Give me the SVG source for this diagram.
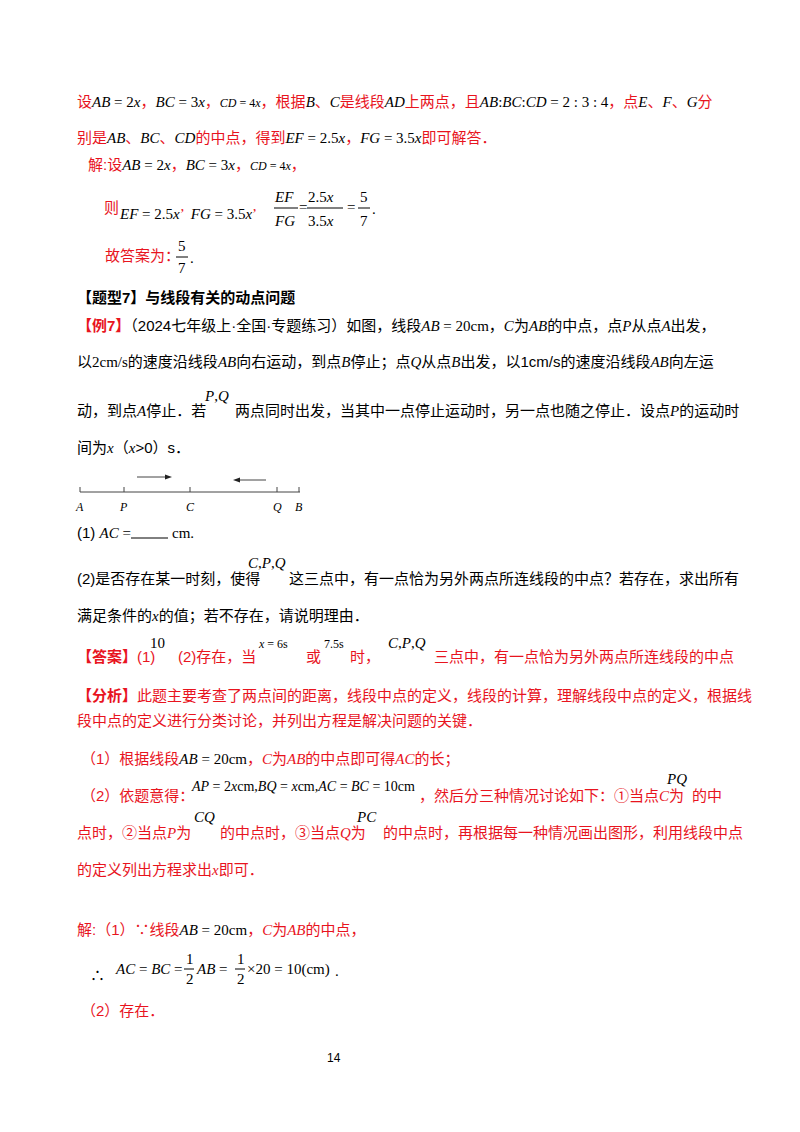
<svg xmlns="http://www.w3.org/2000/svg" width="800" height="1132" viewBox="0 0 800 1132">
<style>
text{font-family:"Liberation Sans","Noto Sans CJK SC",sans-serif;font-size:15px;fill:#000}
.r{fill:#e8141e}
.m{font-family:"Liberation Serif","Noto Sans CJK SC",serif;font-style:italic}
.n{font-family:"Liberation Serif",serif;font-style:normal}
.b{font-weight:bold}
.s{font-size:12px}
</style>
<rect width="800" height="1132" fill="#fff"/>
<text x="77" y="107" class="r">设<tspan class="m" fill="#000">AB</tspan><tspan class="n" fill="#000"> = 2</tspan><tspan class="m" fill="#000">x</tspan>，<tspan class="m" fill="#000">BC</tspan><tspan class="n" fill="#000"> = 3</tspan><tspan class="m" fill="#000">x</tspan>，<tspan class="m s" fill="#000">CD</tspan><tspan class="n s" fill="#000"> = 4</tspan><tspan class="m s" fill="#000">x</tspan>，根据<tspan class="m" fill="#000">B</tspan>、<tspan class="m" fill="#000">C</tspan>是线段<tspan class="m" fill="#000">AD</tspan>上两点，且<tspan class="m" fill="#000">AB</tspan><tspan class="n" fill="#000">:</tspan><tspan class="m" fill="#000">BC</tspan><tspan class="n" fill="#000">:</tspan><tspan class="m" fill="#000">CD</tspan><tspan class="n" fill="#000"> = 2 : 3 : 4</tspan>，点<tspan class="m" fill="#000">E</tspan>、<tspan class="m" fill="#000">F</tspan>、<tspan class="m" fill="#000">G</tspan>分</text>
<text x="77" y="143" class="r">别是<tspan class="m" fill="#000">AB</tspan>、<tspan class="m" fill="#000">BC</tspan>、<tspan class="m" fill="#000">CD</tspan>的中点，得到<tspan class="m" fill="#000">EF</tspan><tspan class="n" fill="#000"> = 2.5</tspan><tspan class="m" fill="#000">x</tspan>，<tspan class="m" fill="#000">FG</tspan><tspan class="n" fill="#000"> = 3.5</tspan><tspan class="m" fill="#000">x</tspan>即可解答．</text>
<text x="88" y="170" class="r">解:设<tspan class="m" fill="#000">AB</tspan><tspan class="n" fill="#000"> = 2</tspan><tspan class="m" fill="#000">x</tspan>，<tspan class="m" fill="#000">BC</tspan><tspan class="n" fill="#000"> = 3</tspan><tspan class="m" fill="#000">x</tspan>，<tspan class="m s" fill="#000">CD</tspan><tspan class="n s" fill="#000"> = 4</tspan><tspan class="m s" fill="#000">x</tspan>，</text>
<text x="104" y="213" class="r">则</text>
<text x="120" y="219" class="m">EF<tspan class="n"> = 2.5</tspan>x<tspan class="n r">’</tspan><tspan dx="6">FG</tspan><tspan class="n"> = 3.5</tspan>x<tspan class="n r">’</tspan></text>
<text x="275" y="202" class="m">EF</text><text x="275" y="226" class="m">FG</text>
<line x1="274" y1="208" x2="298" y2="208" stroke="#000"/>
<text x="299" y="212" class="n">=</text>
<text x="308" y="202" class="n">2.5<tspan class="m">x</tspan></text><text x="308" y="226" class="n">3.5<tspan class="m">x</tspan></text>
<line x1="307" y1="208" x2="343" y2="208" stroke="#000"/>
<text x="347" y="212" class="n">=</text>
<text x="360" y="202" class="n">5</text><text x="360" y="226" class="n">7</text>
<line x1="358" y1="208" x2="370" y2="208" stroke="#000"/>
<text x="372" y="214" class="n">.</text>
<text x="105" y="261" class="r">故答案为：</text>
<text x="178" y="251" class="n">5</text><text x="178" y="273" class="n">7</text>
<line x1="176" y1="257" x2="188" y2="257" stroke="#000"/>
<text x="190" y="263" class="n">.</text>
<text x="77" y="303" class="b">【题型7】与线段有关的动点问题</text>
<text x="77" y="331"><tspan class="r b">【例7】</tspan>（2024七年级上·全国·专题练习）如图，线段<tspan class="m">AB</tspan><tspan class="n"> = 20cm</tspan>，<tspan class="m">C</tspan>为<tspan class="m">AB</tspan>的中点，点<tspan class="m">P</tspan>从点<tspan class="m">A</tspan>出发，</text>
<text x="77" y="367">以<tspan class="n">2cm/s</tspan>的速度沿线段<tspan class="m">AB</tspan>向右运动，到点<tspan class="m">B</tspan>停止；点<tspan class="m">Q</tspan>从点<tspan class="m">B</tspan>出发，以1cm/s的速度沿线段<tspan class="m">AB</tspan>向左运</text>
<text x="77" y="416">动，到点<tspan class="m">A</tspan>停止．若</text>
<text x="205" y="401" class="m">P<tspan class="n">,</tspan>Q</text>
<text x="235" y="416">两点同时出发，当其中一点停止运动时，另一点也随之停止．设点<tspan class="m">P</tspan>的运动时</text>
<text x="77" y="453">间为<tspan class="m">x</tspan>（<tspan class="m">x</tspan>&gt;0）s．</text>
<g stroke="#444" fill="none">
<line x1="80" y1="492" x2="300" y2="492"/>
<line x1="80" y1="487" x2="80" y2="492"/><line x1="124" y1="487" x2="124" y2="492"/><line x1="190" y1="487" x2="190" y2="492"/><line x1="277" y1="487" x2="277" y2="492"/><line x1="299" y1="487" x2="299" y2="492"/>
<line x1="137" y1="477" x2="168" y2="477"/><line x1="236" y1="480" x2="266" y2="480"/>
</g>
<polygon points="172,477 165,474.5 165,479.5" fill="#222"/>
<polygon points="233,480 240,477.5 240,482.5" fill="#222"/>
<text x="76" y="511" class="m s">A</text><text x="120" y="511" class="m s">P</text><text x="186" y="511" class="m s">C</text><text x="273" y="511" class="m s">Q</text><text x="295" y="511" class="m s">B</text>
<text x="77" y="538">(1) <tspan class="m">AC</tspan><tspan class="n"> = </tspan></text>
<line x1="131" y1="538" x2="168" y2="538" stroke="#000"/>
<text x="172" y="538" class="n">cm<tspan>.</tspan></text>
<text x="77" y="584">(2)是否存在某一时刻，使得</text>
<text x="248" y="568" class="m">C<tspan class="n">,</tspan>P<tspan class="n">,</tspan>Q</text>
<text x="289" y="584">这三点中，有一点恰为另外两点所连线段的中点？若存在，求出所有</text>
<text x="77" y="621">满足条件的<tspan class="m">x</tspan>的值；若不存在，请说明理由．</text>
<text x="77" y="662" class="r"><tspan class="b">【答案】</tspan>(1)</text>
<text x="150" y="648" class="n">10</text>
<text x="178" y="662" class="r">(2)存在，当</text>
<text x="259" y="648" class="n s"><tspan class="m">x</tspan> = 6s</text>
<text x="306" y="662" class="r">或</text>
<text x="324" y="648" class="n s">7.5s</text>
<text x="350" y="662" class="r">时，</text>
<text x="388" y="648" class="m">C<tspan class="n">,</tspan>P<tspan class="n">,</tspan>Q</text>
<text x="434" y="662" class="r">三点中，有一点恰为另外两点所连线段的中点</text>
<text x="77" y="701" class="r"><tspan class="b">【分析】</tspan>此题主要考查了两点间的距离，线段中点的定义，线段的计算，理解线段中点的定义，根据线</text>
<text x="77" y="726" class="r">段中点的定义进行分类讨论，并列出方程是解决问题的关键．</text>
<text x="81" y="764" class="r">（1）根据线段<tspan class="m" fill="#000">AB</tspan><tspan class="n" fill="#000"> = 20cm</tspan>，<tspan class="m">C</tspan>为<tspan class="m">AB</tspan>的中点即可得<tspan class="m">AC</tspan>的长；</text>
<text x="81" y="801" class="r">（2）依题意得：</text>
<text x="192" y="791" class="m" style="font-size:14px" fill="#000">AP<tspan class="n"> = 2</tspan>x<tspan class="n">cm,</tspan>BQ<tspan class="n"> = </tspan>x<tspan class="n">cm,</tspan>AC<tspan class="n"> = </tspan>BC<tspan class="n"> = 10cm</tspan></text>
<text x="419" y="801" class="r">，然后分三种情况讨论如下：①当点<tspan class="m">C</tspan>为</text>
<text x="667" y="784" class="m">PQ</text>
<text x="692" y="801" class="r">的中</text>
<text x="77" y="838" class="r">点时，②当点<tspan class="m">P</tspan>为</text>
<text x="194" y="822" class="m">CQ</text>
<text x="220" y="838" class="r">的中点时，③当点<tspan class="m">Q</tspan>为</text>
<text x="357" y="822" class="m">PC</text>
<text x="383" y="838" class="r">的中点时，再根据每一种情况画出图形，利用线段中点</text>
<text x="77" y="875" class="r">的定义列出方程求出<tspan class="m">x</tspan>即可．</text>
<text x="77" y="935" class="r">解:（1）∵线段<tspan class="m" fill="#000">AB</tspan><tspan class="n" fill="#000"> = 20cm</tspan>，<tspan class="m">C</tspan>为<tspan class="m">AB</tspan>的中点，</text>
<text x="90" y="981">∴</text>
<text x="116" y="974" class="m">AC<tspan class="n"> = </tspan>BC<tspan class="n"> = </tspan></text>
<text x="186" y="964" class="n">1</text><text x="186" y="984" class="n">2</text>
<line x1="184" y1="969" x2="194" y2="969" stroke="#000"/>
<text x="197" y="974" class="m">AB<tspan class="n"> = </tspan></text>
<text x="237" y="964" class="n">1</text><text x="237" y="984" class="n">2</text>
<line x1="235" y1="969" x2="245" y2="969" stroke="#000"/>
<text x="247" y="974" class="n">×20 = 10(cm)</text>
<text x="335" y="976" class="n">.</text>
<text x="81" y="1016" class="r">（2）存在．</text>
<text x="327" y="1062" style="font-size:12px">14</text>
</svg>
